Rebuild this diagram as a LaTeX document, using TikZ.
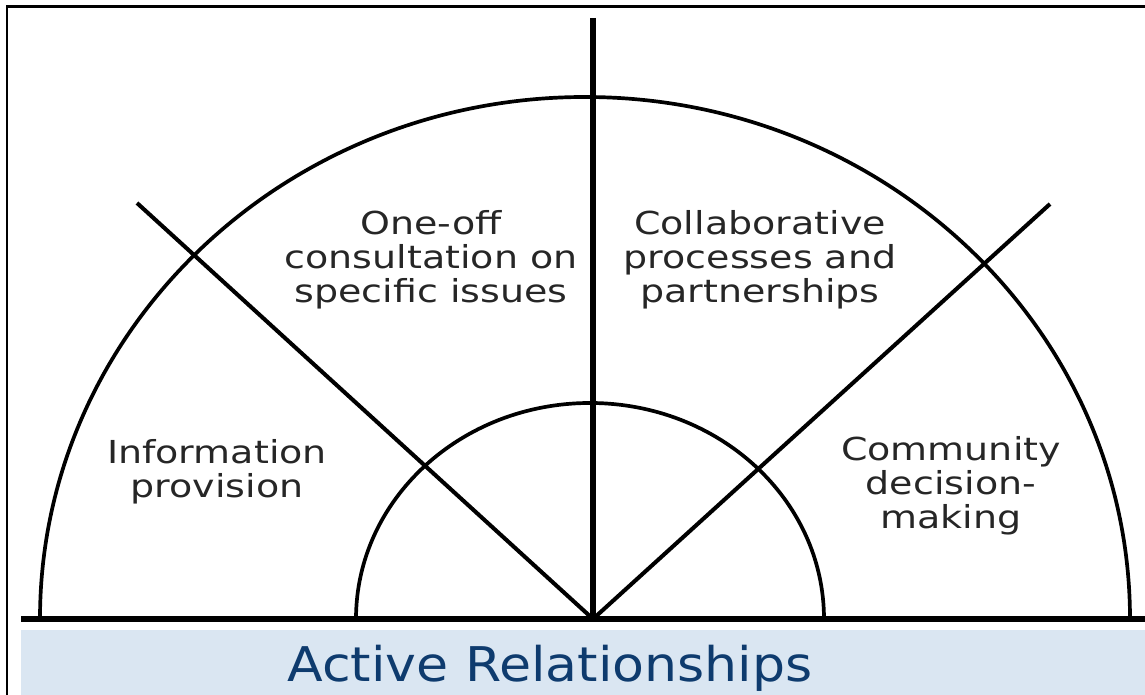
\documentclass[tikz,border=0pt]{standalone}
\usepackage{fontspec}
\setmainfont{DejaVu Sans}
\newfontfamily\lblfont[FakeStretch=1.2]{DejaVu Sans}
\newfontfamily\bandfont[FakeStretch=1.09]{DejaVu Sans}
\usetikzlibrary{positioning,calc}
\definecolor{bandblue}{HTML}{DAE6F2}
\definecolor{bandtext}{HTML}{0E3B6E}

\begin{document}
\begin{tikzpicture}[x=0.01cm,y=-0.01cm,line cap=butt]
\tikzstyle{lbl} = [inner sep=0pt,align=center,text=black!85,font=\lblfont\fontsize{9}{9.6}\selectfont]
\tikzstyle{arcline} = [draw=black,line width=1.05pt]
\tikzstyle{spoke} = [draw=black,line width=1.15pt]
\useasboundingbox (0,0) rectangle (1145,695);
\clip (0,0) rectangle (1145,695);
% frame
\draw[line width=0.85pt] (7,7) rectangle (1160,710);
% band
\fill[bandblue] (21,630) rectangle (1145,695);
\node[inner sep=0pt,anchor=base,text=bandtext,font=\bandfont\fontsize{13.6}{16}\selectfont] (band) at (550,682) {Active Relationships};
% coordinates
\coordinate (O) at (593,619);
\coordinate (top) at (593,18);
\coordinate (tl) at (137,203);
\coordinate (tr) at (1050,204);
% arcs
\draw[arcline] (40,619) arc[start angle=180,end angle=360,x radius=545,y radius=522];
\draw[arcline] (356,619) arc[start angle=180,end angle=360,x radius=234,y radius=216];
% spokes
\draw[spoke] (tl) -- (O) -- (tr);
\draw[draw=black,line width=1.45pt] (top) -- (O);
% base line
\draw[line width=1.7pt] (21,619) -- (1145,619);
% labels
\node[lbl] (info) at (217,472) {Information\\provision};
\node[lbl] (oneoff) at (431,260) {One-off\\consultation on\\specific issues};
\node[lbl] (collab) at (760,260) {Collaborative\\processes and\\partnerships};
\node[lbl] (comm) at (951,486) {Community\\decision-\\making};
\end{tikzpicture}
\end{document}
